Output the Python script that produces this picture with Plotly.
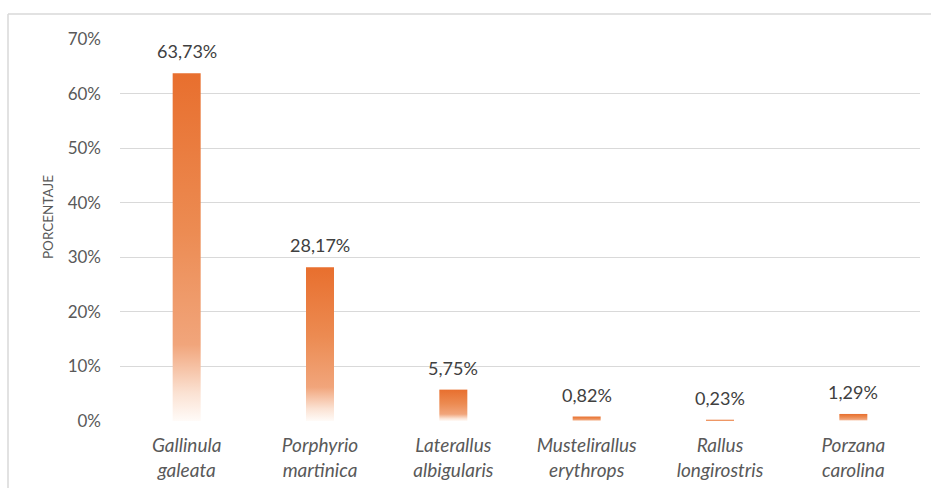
import plotly.graph_objects as go

# Species and their share of records (%)
especies = [
    "Gallinula<br>galeata",
    "Porphyrio<br>martinica",
    "Laterallus<br>albigularis",
    "Mustelirallus<br>erythrops",
    "Rallus<br>longirostris",
    "Porzana<br>carolina",
]
porcentajes = [63.73, 28.17, 5.75, 0.82, 0.23, 1.29]
etiquetas = ["63,73%", "28,17%", "5,75%", "0,82%", "0,23%", "1,29%"]
y_ticks = [0, 10, 20, 30, 40, 50, 60, 70]
y_ticktext = [f"{t}%" for t in y_ticks]

FONT = "Lato"
ANCHO = 0.21  # bar width in category units

# Orange that fades to white toward the base of each bar
gradiente = [
    [0.0, "#FFFBF8"],
    [0.08, "#FBE2D3"],
    [0.22, "#F1A57B"],
    [0.55, "#EC8B52"],
    [1.0, "#E86F2E"],
]

fig = go.Figure()

for i, v in enumerate(porcentajes):
    x0, x1 = i - ANCHO / 2, i + ANCHO / 2
    fig.add_trace(
        go.Scatter(
            x=[x0, x1, x1, x0, x0],
            y=[0, 0, v, v, 0],
            mode="lines",
            line=dict(width=0),
            fill="toself",
            fillgradient=dict(type="vertical", colorscale=gradiente, start=0, stop=v),
            hoverinfo="skip",
            showlegend=False,
        )
    )
    fig.add_annotation(
        x=i,
        y=v,
        text=etiquetas[i],
        showarrow=False,
        yanchor="bottom",
        yshift=9,
        font=dict(family=FONT, size=18, color="#404040"),
    )

L, R, T, B = 120, 11, 39, 67
W, H = 931, 488
pw = W - L - R
ph = H - T - B

fig.update_layout(
    width=W,
    height=H,
    margin=dict(l=L, r=R, t=T, b=B, autoexpand=False),
    paper_bgcolor="white",
    plot_bgcolor="white",
    font=dict(family=FONT, color="#595959"),
    xaxis=dict(
        range=[-0.5, 5.5],
        tickvals=list(range(len(especies))),
        ticktext=[f"<i>{e}</i>" for e in especies],
        tickfont=dict(family=FONT, size=19, color="#595959"),
        showgrid=False,
        zeroline=False,
        showline=False,
        ticks="",
        ticklabelstandoff=11,
        automargin=False,
    ),
    yaxis=dict(
        range=[0, 70],
        tickvals=y_ticks,
        ticktext=y_ticktext,
        tickfont=dict(family=FONT, size=17, color="#595959"),
        showgrid=True,
        gridcolor="#D9D9D9",
        gridwidth=1,
        zeroline=False,
        showline=False,
        ticks="",
        ticklabelstandoff=18,
        automargin=False,
    ),
)

# Vertical axis title
fig.add_annotation(
    text="PORCENTAJE",
    xref="paper", yref="paper",
    x=(48 - L) / pw, y=(H - B - 217) / ph,
    xanchor="center", yanchor="middle",
    textangle=-90,
    showarrow=False,
    font=dict(family=FONT, size=13.5, color="#595959"),
)

# Thin frame along the top and left edge of the chart area
fx = (8 - L) / pw
fy = 1 + (T - 14) / ph
fig.add_shape(type="line", xref="paper", yref="paper", x0=fx, x1=(W - L) / pw, y0=fy, y1=fy,
              line=dict(color="#D9D9D9", width=1.5))
fig.add_shape(type="line", xref="paper", yref="paper", x0=fx, x1=fx, y0=fy, y1=-B / ph,
              line=dict(color="#D9D9D9", width=1.5))

fig.write_html("out.html")
